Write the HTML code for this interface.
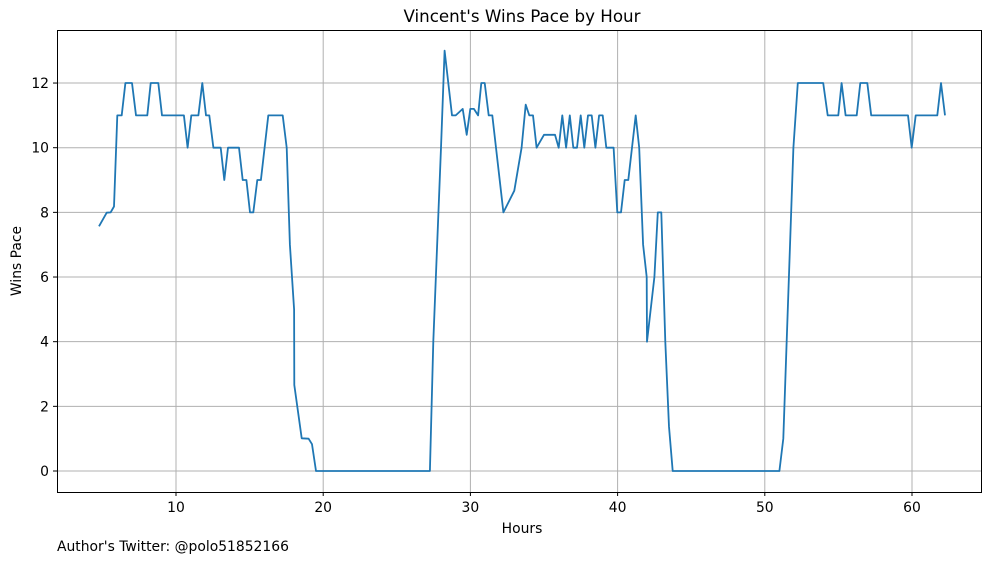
<!DOCTYPE html>
<html><head><meta charset="utf-8"><style>
body{margin:0;background:#fff;font-family:"DejaVu Sans","Liberation Sans",sans-serif}
svg text{font-family:"DejaVu Sans","Liberation Sans",sans-serif;fill:#000}
</style></head><body>
<svg width="997" height="562" id="chart">
<rect width="997" height="562" fill="#fff"/>
<text x="522" y="22" text-anchor="middle" font-size="16.7">Vincent's Wins Pace by Hour</text>
<g id="grid"></g><g id="ticks"></g>
<polyline id="line" fill="none" stroke="#1f77b4" stroke-width="1.8" stroke-linejoin="round"/>
<rect x="57.5" y="30.5" width="924" height="462" fill="none" stroke="#000" stroke-width="1"/>
<text x="522" y="533" text-anchor="middle" font-size="13.9">Hours</text>
<text transform="translate(21,261) rotate(-90)" text-anchor="middle" font-size="13.9">Wins Pace</text>
<text x="57" y="551" font-size="13.9">Author's Twitter: @polo51852166</text>
</svg>
<script>
const hours=[4.77,5.29,5.56,5.79,6.01,6.31,6.56,7.01,7.28,8.05,8.28,8.8,9.05,10.54,10.79,11.04,11.52,11.79,12.04,12.26,12.54,13.04,13.28,13.53,14.28,14.53,14.78,15.03,15.25,15.52,15.77,16.27,17.25,17.52,17.74,18.02,18.04,18.54,19.01,19.24,19.51,27.25,27.48,28.0,28.25,28.75,29.0,29.48,29.75,29.99,30.24,30.52,30.74,30.97,31.24,31.49,32.24,32.98,33.48,33.76,34.0,34.25,34.5,35.0,35.75,36.0,36.24,36.5,36.75,36.99,37.24,37.49,37.74,37.99,38.24,38.49,38.74,38.99,39.23,39.73,39.98,40.23,40.48,40.73,41.23,41.47,41.73,41.98,42.0,42.5,42.73,42.97,43.24,43.49,43.74,50.99,51.26,51.94,52.24,53.97,54.27,54.99,55.22,55.49,56.24,56.49,56.96,57.23,59.73,59.98,60.25,61.72,61.97,62.24];
const pace=[7.57,7.99,8,8.18,11,11,12,12,11,11,12,12,11,11,10,11,11,12,11,11,10,10,9,10,10,9,9,8,8,9,9,11,11,10,7,5,2.66,1.01,1,0.83,0,0,4,10,13,11,11,11.2,10.4,11.2,11.2,11,12,12,11,11,8,8.67,10,11.33,11,11,10,10.4,10.4,10,11,10,11,10,10,11,10,11,11,10,11,11,10,10,8,8,9,9,11,10,7,6,4,6,8,8,4,1.37,0,0,1,10,12,12,11,11,12,11,11,12,12,11,11,10,11,11,12,11];
const xTicks=[10,20,30,40,50,60];
const yTicks=[0,2,4,6,8,10,12];
const X=h=>28.8+14.72*h, Y=v=>471-32.33*v;
const NS="http://www.w3.org/2000/svg";
const grid=document.getElementById('grid'), ticks=document.getElementById('ticks');
function mk(tag,attrs,parent){const e=document.createElementNS(NS,tag);for(const k in attrs)e.setAttribute(k,attrs[k]);parent.appendChild(e);return e;}
xTicks.forEach(t=>{
  const x=X(t);
  const g=mk('line',{x1:x,x2:x,y1:30,y2:492,stroke:'#b0b0b0','stroke-width':1},grid);
  
  
  mk('line',{x1:x,x2:x,y1:492,y2:496,stroke:'#000'},ticks);
  const l=mk('text',{x:x,y:512,'text-anchor':'middle','font-size':13.9},ticks);
  l.textContent=t;
  
  
});
yTicks.forEach(t=>{
  const y=Y(t);
  const g=mk('line',{x1:57,x2:981,y1:y,y2:y,stroke:'#b0b0b0','stroke-width':1},grid);
  
  
  mk('line',{x1:53,x2:57,y1:y,y2:y,stroke:'#000'},ticks);
  const l=mk('text',{x:49,y:y+5,'text-anchor':'end','font-size':13.9},ticks);
  l.textContent=t;
  
  
});
document.getElementById('line').setAttribute('points',hours.map((h,i)=>X(h).toFixed(1)+','+Y(pace[i]).toFixed(1)).join(' '));
</script>
</body></html>
